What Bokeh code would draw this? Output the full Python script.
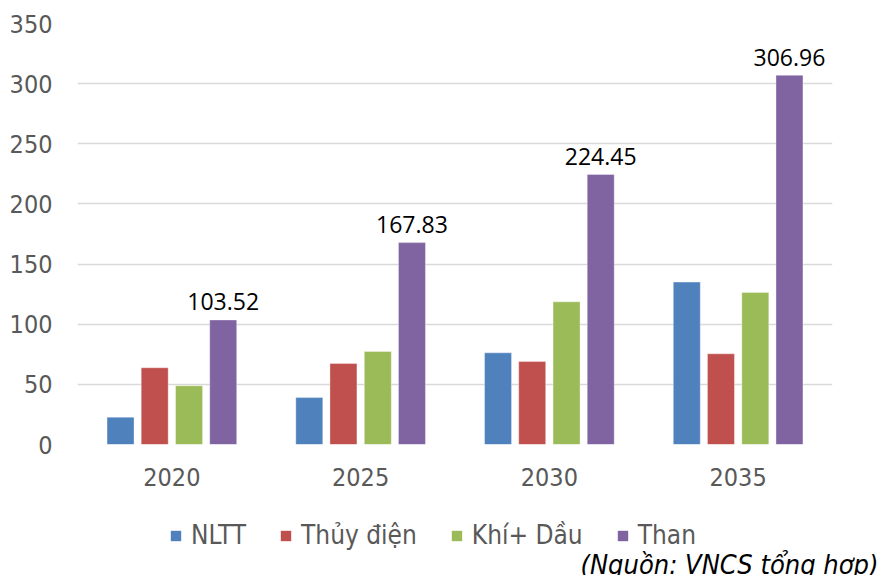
from bokeh.plotting import figure
from bokeh.layouts import column
from bokeh.models import (ColumnDataSource, Range1d, FactorRange, FixedTicker,
                          Legend, LegendItem, Title)
from bokeh.transform import dodge
from bokeh.core.properties import value
from bokeh.embed import file_html
from bokeh.resources import INLINE

years = ["2020", "2025", "2030", "2035"]
series_names = ["NLTT", "Thủy điện", "Khí+ Dầu", "Than"]
nltt = [22.7, 39.0, 76.2, 135.0]
thuy_dien = [63.8, 67.3, 69.0, 75.4]
khi_dau = [48.8, 77.3, 118.6, 126.4]
than = [103.52, 167.83, 224.45, 306.96]
y_ticks = [0, 50, 100, 150, 200, 250, 300, 350]
source_note = "(Nguồn: VNCS tổng hợp)"

colors = ["#4F81BD", "#C0504D", "#9BBB59", "#8064A2"]
offsets = [-0.272, -0.091, 0.091, 0.272]
AX_FONT = "DejaVu Sans Condensed"

src = ColumnDataSource(dict(
    year=years, s0=nltt, s1=thuy_dien, s2=khi_dau, s3=than,
    lbl=[f"{v:.2f}" for v in than],
))

# ---- main chart ----
p = figure(width=879, height=500, x_range=FactorRange(*years),
           y_range=Range1d(0, 350), output_backend="svg", toolbar_location=None,
           min_border_left=77, min_border_right=47, min_border_top=23,
           min_border_bottom=56)
p.outline_line_color = None
p.background_fill_color = "white"
p.border_fill_color = "white"

for i, key in enumerate(["s0", "s1", "s2", "s3"]):
    p.vbar(x=dodge("year", offsets[i], range=p.x_range), top=key, width=0.143,
           source=src, fill_color=colors[i], line_color="white", line_alpha=0.35,
           line_width=1)

p.text(x=dodge("year", offsets[3], range=p.x_range), y="s3", text="lbl", source=src,
       text_align="center", text_baseline="alphabetic", y_offset=-18,
       text_font=value("Open Sans"), text_font_size="23px", text_color="#000000")

p.xgrid.grid_line_color = None
p.ygrid.grid_line_color = "#D9D9D9"
p.ygrid.grid_line_width = 1.5
p.yaxis.ticker = FixedTicker(ticks=y_ticks)

for ax in (p.xaxis, p.yaxis):
    ax.axis_line_color = None
    ax.major_tick_line_color = None
    ax.minor_tick_line_color = None
    ax.major_tick_out = 0
    ax.major_tick_in = 0
    ax.major_label_text_font = AX_FONT
    ax.major_label_text_font_size = "25px"
    ax.major_label_text_color = "#595959"
p.yaxis.major_label_standoff = 25
p.xaxis.major_label_standoff = 23

# ---- legend + source strip (frame is aligned with the chart above) ----
q = figure(width=879, height=75, x_range=Range1d(0, 1), y_range=Range1d(0, 1),
           output_backend="svg", toolbar_location=None,
           min_border=0, min_border_left=0, min_border_right=0,
           min_border_top=0, min_border_bottom=0)
q.axis.visible = False
q.grid.visible = False
q.outline_line_color = None
q.background_fill_color = "white"
q.border_fill_color = "white"

leg_renderers = []
for i in range(4):
    # zero-height swatch carriers, only used to give the legend its colours
    r = q.vbar(x=[0.0], top=[0.0], bottom=[0.0], width=0.0,
               fill_color=colors[i], line_color=None)
    leg_renderers.append(r)

legend = Legend(items=[LegendItem(label=series_names[i], renderers=[leg_renderers[i]])
                       for i in range(4)],
                orientation="horizontal", location=(92, 0),
                glyph_width=13, glyph_height=13, label_standoff=9, spacing=33,
                padding=0, margin=0, border_line_color=None,
                background_fill_alpha=0,
                label_text_font=AX_FONT, label_text_font_size="26px",
                label_text_color="#595959")
q.add_layout(legend, "center")

note = Title(text=source_note, align="right", offset=-46, standoff=-8,
             text_font=AX_FONT, text_font_style="italic", text_font_size="27px",
             text_color="#000000")
q.add_layout(note, "below")

layout = column(p, q, spacing=0)
open("out.html", "w").write(file_html(layout, INLINE))
